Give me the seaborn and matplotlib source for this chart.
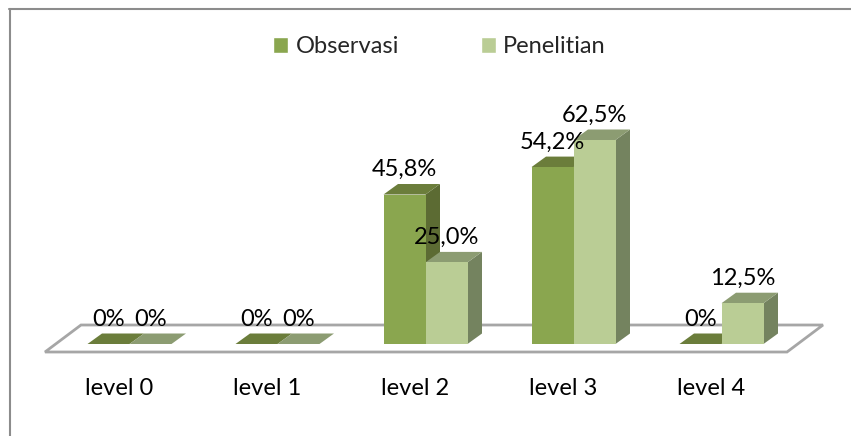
import matplotlib
matplotlib.use("Agg")
import matplotlib.pyplot as plt
from matplotlib.lines import Line2D
from matplotlib.patches import Patch, Polygon
import pandas as pd
import seaborn as sns

levels = ["level 0", "level 1", "level 2", "level 3", "level 4"]
observasi = [0, 0, 45.8, 54.2, 0]
penelitian = [0, 0, 25.0, 62.5, 12.5]
observasi_labels = ["0%", "0%", "45,8%", "54,2%", "0%"]
penelitian_labels = ["0%", "0%", "25,0%", "62,5%", "12,5%"]

W, H = 851, 436
AX_LEFT, AX_RIGHT = 45, 787
BASE_Y, AX_TOP = 344, 44
PX_PER_UNIT_X = 148
PX_PER_PCT = 204 / 62.5
DEPTH_X, DEPTH_Y = 14.5, 10.5
FONT_SIZE = 17

# front colour, top colour, side colour
STYLES = {
    "Observasi": ("#8aa64f", "#6b7d3b", "#5c6b33"),
    "Penelitian": ("#bacd95", "#8c9c72", "#74835f"),
}

sns.set_theme(style="white")
plt.rcParams["font.family"] = ["Lato", "DejaVu Sans"]

df = pd.DataFrame({
    "level": levels * 2,
    "series": ["Observasi"] * len(levels) + ["Penelitian"] * len(levels),
    "value": observasi + penelitian,
})

fig = plt.figure(figsize=(W / 100, H / 100), dpi=100)
ax = fig.add_axes([AX_LEFT / W, 1 - BASE_Y / H, (AX_RIGHT - AX_LEFT) / W, (BASE_Y - AX_TOP) / H])
sns.barplot(
    data=df, x="level", y="value", hue="series", order=levels,
    palette={k: v[0] for k, v in STYLES.items()}, saturation=1,
    width=84 / PX_PER_UNIT_X, gap=0, legend=False, errorbar=None, ax=ax,
    edgecolor="none", zorder=3,
)
ax.set_xlim(-84.5 / PX_PER_UNIT_X, (AX_RIGHT - AX_LEFT - 84.5) / PX_PER_UNIT_X)
ax.set_ylim(0, (BASE_Y - AX_TOP) / PX_PER_PCT)
ax.axis("off")

dx = DEPTH_X / PX_PER_UNIT_X
dy = DEPTH_Y / PX_PER_PCT

# floor of the 3D plot
x0, x1 = ax.get_xlim()
floor_low = -8 / PX_PER_PCT
floor_high = 19 / PX_PER_PCT
floor_shift = 36 / PX_PER_UNIT_X
ax.add_patch(Polygon(
    [(x0, floor_low), (x1, floor_low), (x1 + floor_shift, floor_high), (x0 + floor_shift, floor_high)],
    closed=True, fill=False, edgecolor="#a6a6a6", linewidth=2, clip_on=False, zorder=1,
))

series_bars = zip(STYLES, ax.containers, (observasi_labels, penelitian_labels))
for name, bars, labels in series_bars:
    front, top, side = STYLES[name]
    for bar, label in zip(bars, labels):
        bx, bw, bh = bar.get_x(), bar.get_width(), bar.get_height()
        order = 3 + bx
        bar.set_zorder(order + 0.02)
        ax.add_patch(Polygon(
            [(bx, bh), (bx + bw, bh), (bx + bw + dx, bh + dy), (bx + dx, bh + dy)],
            closed=True, facecolor=top, edgecolor="none", clip_on=False, zorder=order + 0.01,
        ))
        if bh > 0:
            ax.add_patch(Polygon(
                [(bx + bw, 0), (bx + bw + dx, dy), (bx + bw + dx, bh + dy), (bx + bw, bh)],
                closed=True, facecolor=side, edgecolor="none", clip_on=False, zorder=order,
            ))
        ax.text(
            bx + bw / 2, bh + dy + 8 / PX_PER_PCT, label, ha="center", va="baseline",
            fontsize=FONT_SIZE, color="black", clip_on=False, zorder=10,
        )

for i, level in enumerate(levels):
    ax.text(
        i - 10 / PX_PER_UNIT_X, -51 / PX_PER_PCT, level, ha="center", va="baseline",
        fontsize=FONT_SIZE, color="black", clip_on=False,
    )

# chart frame, cropped on the right and at the bottom
for xs, ys in (([9.5, 9.5], [9, H]), ([9, W], [9.5, 9.5])):
    fig.add_artist(Line2D([x / W for x in xs], [1 - y / H for y in ys], color="#8c8c8c", linewidth=1.5))

handles = [Patch(facecolor=STYLES[k][0], label=k) for k in STYLES]
fig.legend(
    handles=handles, loc="center", bbox_to_anchor=(439.5 / W, 1 - 46.5 / H), ncol=2, frameon=False,
    fontsize=FONT_SIZE, handlelength=0.64, handleheight=0.64, handletextpad=0.3, columnspacing=3.47,
)

fig.savefig("out.png", dpi=100)
